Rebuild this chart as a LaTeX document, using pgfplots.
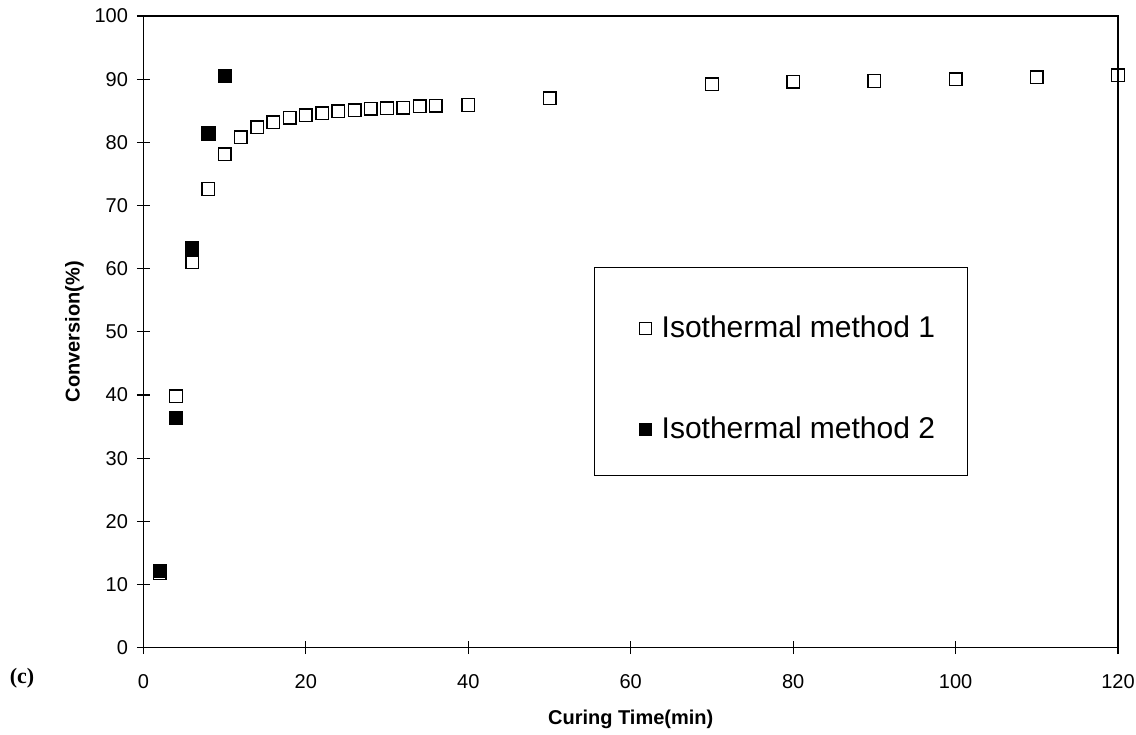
\documentclass[border=0pt]{standalone}
\usepackage{pgfplots}
\pgfplotsset{compat=1.18}
\usepackage{fontspec}
\setmainfont{Liberation Sans}
\newfontfamily\timesfont{Liberation Serif}
\begin{document}
\begin{tikzpicture}
\begin{axis}[
  scale only axis,
  width=487.5pt, height=316pt,
  xmin=0, xmax=120, ymin=0, ymax=100,
  xtick={0,20,...,120}, ytick={0,10,...,100},
  xtick pos=left, ytick pos=left,
  tick align=center,
  major tick length=6.5pt,
  tick style={black, line width=0.6pt},
  axis line style={line width=0.6pt},
  /pgf/number format/assume math mode=true,
  ticklabel style={font=\fontsize{10}{12}\selectfont},
  xticklabel style={yshift=-6.5pt},
  yticklabel style={xshift=-1pt},
  xlabel={\textbf{Curing Time(min)}},
  ylabel={\textbf{Conversion(\%)}},
  label style={font=\fontsize{10}{12}\selectfont},
  xlabel style={yshift=-4pt},
  ylabel style={yshift=-1.5pt},
  legend style={at={(axis cs:55.6,59.18)}, anchor=north west, draw=none, fill=none,
    font=\fontsize{15}{18}\selectfont, inner xsep=18pt, inner ysep=19pt, row sep=34pt,
    /tikz/every odd column/.style={column sep=2.9pt}},
  legend cell align=left,
]
\draw[black, line width=0.6pt] (axis cs:55.57,60.13) rectangle (axis cs:101.48,27.22);
\addplot[only marks, mark=square, mark size=3.15pt, mark options={black, line width=0.7pt, fill=white},
  legend image code/.code={\path[draw=none,fill=none] (-7pt,0pt) -- (3pt,0pt); \draw[black, line width=0.55pt, fill=white] (-3pt,-3pt) rectangle (3pt,3pt);}]
coordinates {
(2,11.8)(4,39.8)(6,61.0)(8,72.6)(10,78.1)(12,80.8)(14,82.4)(16,83.2)(18,83.9)(20,84.3)
(22,84.6)(24,84.9)(26,85.1)(28,85.3)(30,85.4)(32,85.5)(34,85.7)(36,85.8)(40,85.9)
(50,87.0)(70,89.2)(80,89.6)(90,89.7)(100,90.0)(110,90.3)(120,90.6)
};
\addlegendentry{Isothermal method 1}
\addplot[only marks, mark=square*, mark size=3.3pt, mark options={black, line width=0.4pt, fill=black},
  legend image code/.code={\path[draw=none,fill=none] (-7pt,0pt) -- (3pt,0pt); \draw[black, line width=0.55pt, fill=black] (-3pt,-3pt) rectangle (3pt,3pt);}]
coordinates {
(2,12.2)(4,36.4)(6,63.3)(8,81.4)(10,90.5)
};
\addlegendentry{Isothermal method 2}
\end{axis}
\node[font=\timesfont\bfseries\fontsize{11}{12}\selectfont] at (-60.75pt,-15.5pt) {(c)};
\pgfresetboundingbox
\path[use as bounding box] (-71.75pt,-43.5pt) rectangle (496.5pt,324pt);
\end{tikzpicture}
\end{document}
